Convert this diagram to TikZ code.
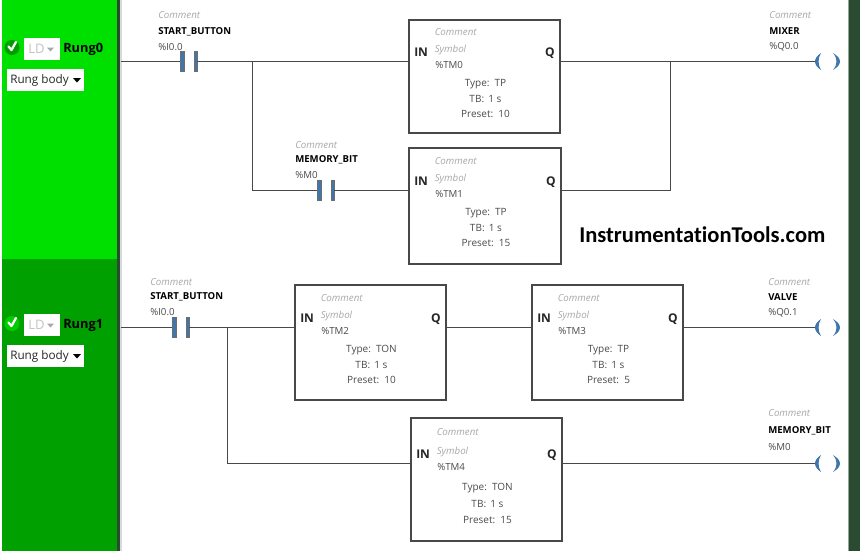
\documentclass[tikz,border=0pt]{standalone}
\usepackage{fontspec}
\setmainfont{Open Sans}
\newfontfamily\wmfont{Carlito}[Ligatures=NoCommon]
\definecolor{rungA}{HTML}{00E000}
\definecolor{rungB}{HTML}{00A000}
\definecolor{rail}{HTML}{2A4A32}
\definecolor{wire}{HTML}{484848}
\definecolor{faint}{HTML}{A8A8A8}
\definecolor{ldgrey}{HTML}{C4C4C4}
\definecolor{lbl}{HTML}{4A4A4A}
\definecolor{coil}{HTML}{3F76AE}
\definecolor{checkA}{HTML}{009C00}
\definecolor{checkB}{HTML}{00CC00}
\tikzset{
  wirepath/.style={draw=wire,line width=.8pt},
  timerbox/.style={draw=wire,line width=1.5pt,fill=white,rectangle,inner sep=0pt},
  small/.style={inner sep=0pt,text height=6pt,text depth=1.5pt},
  cmt/.style={small,anchor=west,text=faint,font=\fontsize{7.3}{8}\selectfont\itshape},
  sym/.style={small,anchor=west,text=black,font=\fontsize{7.2}{8}\selectfont\bfseries},
  adr/.style={small,anchor=west,text=lbl,font=\fontsize{7.3}{8}\selectfont},
  par/.style={small,anchor=center,text=lbl,font=\fontsize{7.5}{8}\selectfont},
  pin/.style={small,text=black!85,font=\fontsize{9}{10}\selectfont\bfseries},
  bar/.style={draw=wire!80,fill=coil,line width=.3pt,rectangle,minimum width=2.6pt,minimum height=15pt,inner sep=0pt},
  whitebox/.style={fill=white,rectangle,inner sep=0pt},
  rungname/.style={anchor=west,inner sep=0pt,text height=7pt,text depth=2pt,text=black,font=\fontsize{9.6}{10}\selectfont\bfseries},
  mode/.style={anchor=west,inner sep=0pt,text height=7pt,text depth=2pt,text=black!85,font=\fontsize{8.8}{10}\selectfont},
}
\newcommand{\trio}[7]{% prefix x y1 y2 y3 symbol address
  \node[cmt] (#1c) at (#2,#3) {Comment};
  \node[sym] (#1s) at (#2,#4) {#6};
  \node[adr] (#1a) at (#2,#5) {#7};}
\def\oc{-29}\def\os{-12}\def\oa{4}\def\pa{22}\def\pb{38}\def\pc{53}
\newcommand{\timerblock}[9]{% name x1 y1 x2 y2 wireY type address preset
  \node[timerbox,minimum width={(#4-#2)*.75pt},minimum height={(#5-#3)*.75pt}] (#1) at ({(#2+#4)/2},{(#3+#5)/2}) {};
  \coordinate (#1in) at (#2,#6);
  \coordinate (#1q) at (#4,#6);
  \node[pin,anchor=west] (#1inl) at ({#2+5},{#6-8}) {IN};
  \node[pin,anchor=east] (#1ql) at ({#4-5},{#6-8}) {Q};
  \node[cmt] (#1c) at ({#2+25.5},{#6+\oc}) {Comment};
  \node[cmt] (#1s) at ({#2+25.5},{#6+\os}) {Symbol};
  \node[adr] (#1a) at ({#2+26},{#6+\oa}) {#8};
  \node[par] (#1t) at ({(#2+#4)/2+1},{#6+\pa}) {Type:\, #7};
  \node[par] (#1b) at ({(#2+#4)/2+1},{#6+\pb}) {TB:\, 1 s};
  \node[par] (#1p) at ({(#2+#4)/2+1},{#6+\pc}) {Preset:\, #9};}
\newcommand{\contact}[3]{% name x y
  \node[bar] (#1a) at (#2,#3) {};
  \node[bar] (#1b) at ({#2+13.5},#3) {};}
\newcommand{\coilsym}[3]{% name x y
  \coordinate (#1) at ({#2+2},#3);
  \fill[coil] ({#2+8},{#3-8.5}) .. controls ({#2+0},{#3-3}) and ({#2+0},{#3+3}) .. ({#2+8},{#3+8.5})
     .. controls ({#2+4.7},{#3+3}) and ({#2+4.7},{#3-3}) .. cycle;
  \fill[coil] ({#2+20},{#3-8.5}) .. controls ({#2+29.3},{#3-3}) and ({#2+29.3},{#3+3}) .. ({#2+20},{#3+8.5})
     .. controls ({#2+24.7},{#3+3}) and ({#2+24.7},{#3-3}) .. cycle;}
\newcommand{\rungpanel}[5]{% suffix check-y label body-y circle-colour
  \fill[#5] (12,{#2+.5}) circle [radius=7.5];
  \draw[white,line width=1.7pt,line cap=round,line join=round] (8.5,{#2-.5}) -- (11.5,{#2+3}) -- (16,{#2-5});
  \node[whitebox,minimum width=27pt,minimum height=16.5pt] (ld#1) at (42,{#2+1.5}) {};
  \node[anchor=west,inner sep=0pt,text height=7pt,text depth=2pt,text=ldgrey,font=\fontsize{9.8}{10}\selectfont] (ldt#1) at (28,{#2+3}) {LD};
  \fill[faint] (47,{#2+.5}) -- (54,{#2+.5}) -- (50.5,{#2+4.5}) -- cycle;
  \node[rungname] (rn#1) at (63,{#2+2}) {#3};
  \node[whitebox,minimum width=57.75pt,minimum height=16.5pt] (rb#1) at (45.5,#4) {};
  \node[mode] (rbt#1) at (10,{#4+.5}) {Rung body};
  \fill[black] (73,{#4-2}) -- (81,{#4-2}) -- (77,{#4+2.5}) -- cycle;}
\begin{document}
\begin{tikzpicture}[x=.75pt,y=-.75pt]
\useasboundingbox (0,0) rectangle (860,551);
\fill[white] (0,0) rectangle (860,551);
\fill[rungA] (2,0) rectangle (117,259);
\fill[rungB] (2,259) rectangle (117,551);
\fill[rail] (117,0) rectangle (120,551);
\fill[black!15] (120,0) rectangle (121.5,551);
\fill[rail] (849,0) rectangle (860,551);
\fill[rail!50!white] (848,0) rectangle (849,551);
% panels
\rungpanel{A}{47}{Rung0}{80}{checkA}
\rungpanel{B}{323}{Rung1}{356}{checkB}
% rails and junctions
\coordinate (leftA) at (121,61.5);
\coordinate (leftB) at (121,327.5);
\coordinate (jA) at (252.5,61.5);
\coordinate (jAd) at (252.5,190.5);
\coordinate (jQ) at (670.5,61.5);
\coordinate (jQd) at (670.5,190.5);
\coordinate (jB) at (227.5,327.5);
\coordinate (jBd) at (227.5,463.5);
% timers
\timerblock{tma}{409}{20}{560}{133}{61.5}{TP}{\%TM0}{10}
\timerblock{tmb}{409}{148}{561}{264}{190.5}{TP}{\%TM1}{15}
\timerblock{tmc}{295}{285}{446}{400}{327.5}{TON}{\%TM2}{10}
\timerblock{tmd}{532}{285}{683}{400}{327.5}{TP}{\%TM3}{5}
\def\oc{-31}\def\os{-12}\def\oa{4}\def\pa{24}\def\pb{41}\def\pc{57}
\timerblock{tme}{411}{418}{562}{541}{463.5}{TON}{\%TM4}{15}
% contacts
\contact{ca}{182}{61.5}
\contact{cb}{319}{190.5}
\contact{cc}{174}{327.5}
% coils
\coilsym{qa}{813}{61.5}
\coilsym{qb}{813}{327.5}
\coilsym{qc}{813}{463.5}
% wires
\draw[wirepath] (leftA) -- (caa.west);
\draw[wirepath] (cab.east) -- (jA) -- (tmain);
\draw[wirepath] (jA) -- (jAd) -- (cba.west);
\draw[wirepath] (cbb.east) -- (tmbin);
\draw[wirepath] (tmaq) -- (jQ) -- (qa);
\draw[wirepath] (tmbq) -- (jQd) -- (jQ);
\draw[wirepath] (leftB) -- (cca.west);
\draw[wirepath] (ccb.east) -- (jB) -- (tmcin);
\draw[wirepath] (jB) -- (jBd) -- (tmein);
\draw[wirepath] (tmcq) -- (tmdin);
\draw[wirepath] (tmdq) -- (qb);
\draw[wirepath] (tmeq) -- (qc);
% labels
\trio{la}{158}{15}{31}{47}{START\_BUTTON}{\%I0.0}
\trio{lb}{295}{145}{159}{175}{MEMORY\_BIT}{\%M0}
\trio{lc}{150}{282}{296}{312}{START\_BUTTON}{\%I0.0}
\trio{ld}{769}{15}{31}{46}{MIXER}{\%Q0.0}
\trio{le}{768}{282}{297}{312}{VALVE}{\%Q0.1}
\trio{lf}{768}{413}{430}{447}{MEMORY\_BIT}{\%M0}
\node[anchor=west,inner sep=0pt,text=black,font=\wmfont\fontsize{16.9}{18}\selectfont\bfseries] (wm) at (579,235) {InstrumentationTools.com};
\end{tikzpicture}
\end{document}
